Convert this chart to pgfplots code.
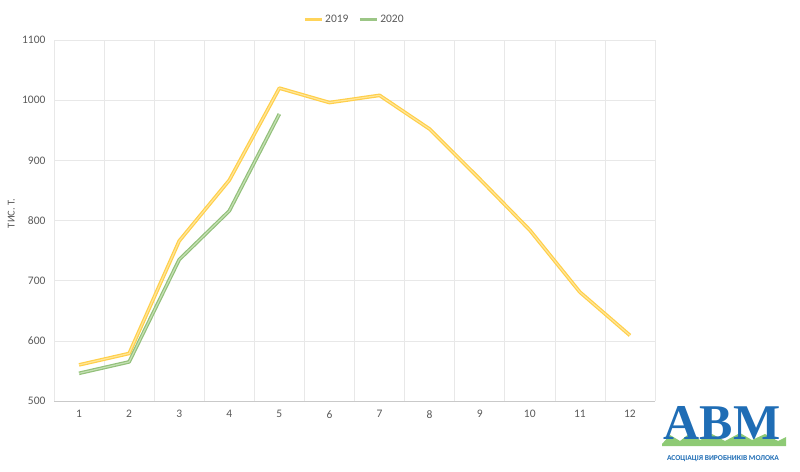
\documentclass[border=0pt]{standalone}
\usepackage{pgfplots}
\pgfplotsset{compat=1.18}
\usepackage{fontspec}
\setmainfont{Carlito}
\newfontfamily\logofont{Liberation Serif}
\definecolor{txt}{HTML}{595959}
\definecolor{gridc}{HTML}{E8E8E8}
\definecolor{yout}{HTML}{FFCF4A}
\definecolor{yin}{HTML}{FFE699}
\definecolor{gout}{HTML}{92C07A}
\definecolor{gin}{HTML}{C5E0B4}
\definecolor{logob}{HTML}{1F6DB5}
\definecolor{logog}{HTML}{5DB33A}
\begin{document}
\begin{tikzpicture}[x=1pt,y=1pt]
\path[use as bounding box] (0,0) rectangle (800,471);
\begin{axis}[
  at={(54pt,70pt)}, anchor=south west,
  width=601pt, height=361pt, scale only axis,
  xmin=0.5, xmax=12.5, ymin=500, ymax=1100,
  xtick={1,...,12},
  minor xtick={0.5,1.5,...,12.5},
  ytick={500,600,...,1100},
  xminorgrids=true, ymajorgrids=true,
  grid style={gridc, line width=0.6pt},
  minor grid style={gridc, line width=0.6pt},
  axis line style={draw=none},
  axis x line*=bottom,
  x axis line style={draw=gridc!70!gray, line width=0.7pt},
  axis y line*=left,
  major tick length=0pt, minor tick length=0pt,
  tick label style={font=\fontsize{11.5}{13}\selectfont, text=txt},
  /pgf/number format/assume math mode=true,
  /pgf/number format/1000 sep={},
  xticklabel style={yshift=-6pt},
  yticklabel style={xshift=-5pt},
  ylabel={ТИС. Т.},
  ylabel style={font=\fontsize{10.5}{12}\selectfont, text=txt, at={(axis description cs:-0.071,0.52)}, anchor=center},
  clip=false,
  legend style={at={(0.5,1)}, yshift=12pt, anchor=south, draw=none, fill=none,
    legend columns=2, font=\fontsize{11.5}{13}\selectfont, text=txt,
    /tikz/every even column/.append style={column sep=8pt}},
  legend image code/.code={\draw[#1] (0pt,0pt) -- (17pt,0pt);},
]
\addlegendimage{draw=yout!80!yin, line width=2.8pt}
\addlegendentry{2019}
\addlegendimage{draw=gout!80!gin, line width=2.8pt}
\addlegendentry{2020}
\addplot[forget plot, draw=yout, double=yin, double distance=1.2pt, line width=1.2pt, line join=round] coordinates {
(1,560) (2,579) (3,766) (4,867) (5,1020) (6,996) (7,1008) (8,952) (9,869) (10,784) (11,681) (12,609)
};
\addplot[forget plot, draw=gout, double=gin, double distance=1.2pt, line width=1.2pt, line join=round] coordinates {
(1,546) (2,565) (3,735) (4,816) (5,977)
};
\end{axis}
% logo
\fill[logog!70!white] (662,27) -- (670,36) -- (680,30) -- (690,38) -- (700,31) -- (712,37) -- (725,30) -- (740,38) -- (752,31) -- (765,37) -- (778,30) -- (786,34) -- (786,25) -- (662,25) -- cycle;
\node[text=logob, font=\logofont\fontsize{50}{52}\selectfont\bfseries] at (722,48) {АВМ};
\node[text=logob, font=\fontsize{7.5}{8}\selectfont\bfseries] at (723,12) {АСОЦІАЦІЯ ВИРОБНИКІВ МОЛОКА};
\end{tikzpicture}
\end{document}
